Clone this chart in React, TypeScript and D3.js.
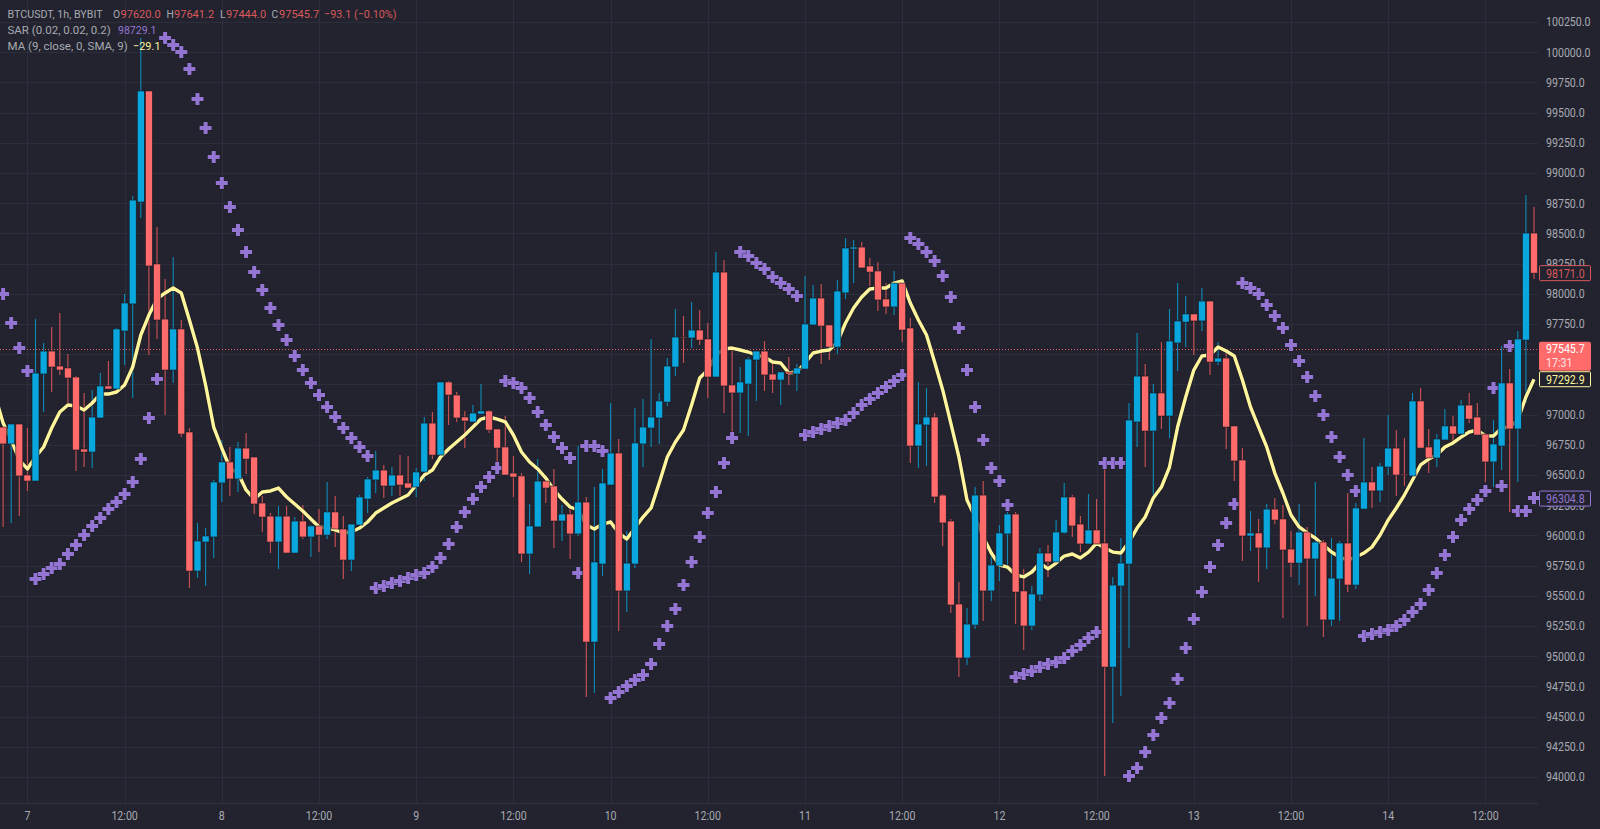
import { useEffect, useRef } from 'react';
import * as d3 from 'd3';

const firstBar = -3; // bars are numbered from the midnight of the 7th

const opens = [
  96897,96757,96922,96500,96450,97336,97526,97402,97386,97311,
  96715,96690,96972,97237,97212,97692,97916,98760,99679,98247,
  97791,97369,97709,96856,95705,95945,95987,96434,96608,96467,
  96723,96649,96268,96160,95945,96160,95854,96119,95987,96078,
  96003,96194,96053,95796,96086,96301,96459,96541,96409,96500,
  96434,96400,96525,96930,96665,97270,97162,96980,96939,97005,
  97030,96881,96732,96516,96492,95846,96070,96450,96409,96119,
  96177,96012,96276,95117,95763,96417,96682,95540,95763,96757,
  96889,96972,97104,97394,97642,97634,97700,97626,97311,98180,
  97245,97179,97253,97452,97526,97336,97286,97353,97336,97377,
  97742,97965,97742,97559,98007,98371,98387,98230,98189,97957,
  97891,98089,97717,96740,96914,96980,96334,96119,95432,94985,
  95258,96334,95540,95747,96012,96177,95540,95250,95507,95854,
  95780,96020,96318,96094,95929,96045,95937,94910,95581,95763,
  96939,97319,96864,97179,96988,97593,97766,97833,97775,97940,
  97435,97468,96906,96624,95995,96020,95896,96218,96136,95887,
  95771,96028,95805,95945,95300,95639,95937,95589,96218,96442,
  96368,96566,96723,96508,96492,97113,96732,96641,96790,96906,
  96839,97079,96980,96839,96608,96740,97262,96881,97617,98503,
];

const highs = [
  96897,96922,96922,96889,97791,97593,97725,97841,97502,97319,
  97179,97204,97344,97444,97717,97998,98810,100117,99679,98553,
  98122,98305,97783,96889,96103,96061,96459,96790,96732,96773,
  96848,96649,96326,96185,96243,96243,96152,96252,96086,96218,
  96442,96326,96160,96094,96334,96483,96699,96583,96566,96665,
  96657,96558,96980,97021,97270,97278,97187,97030,97079,97253,
  97038,96881,96988,96657,96516,96260,96632,96500,96550,96252,
  96227,96740,96318,96400,96550,97096,96798,96036,97055,97129,
  97626,97179,97468,97874,97816,97932,97866,97758,98346,98280,
  97535,97394,97477,97526,97609,97452,97353,97477,97419,98147,
  98073,98081,97742,98114,98462,98445,98429,98296,98263,98089,
  98189,98106,97800,97270,97220,97013,96343,96136,95614,95399,
  96400,96450,95854,96086,96194,96194,95722,95581,95896,95920,
  96127,96434,96334,96160,96343,96301,96591,95656,95979,97096,
  97675,97419,97253,97601,97874,98089,97982,97833,98048,97940,
  97601,97526,96906,96723,96202,96136,96260,96310,96252,96036,
  96260,96070,96442,95962,95979,95954,96351,96268,96806,96566,
  96599,96997,96872,96806,97179,97220,96881,96839,97046,96988,
  97121,97179,97096,96839,96955,97568,97377,97692,98818,98718,
];

const lows = [
  96070,96103,96160,96368,96450,97021,97187,97328,97096,96533,
  96566,96558,96972,97212,97212,97410,97137,98627,97493,97626,
  96997,97262,96814,95565,95647,95581,95813,96276,96326,96359,
  96508,96177,96028,95854,95722,95854,95854,95970,95821,95862,
  95970,95904,95639,95705,96086,96185,96351,96310,96326,96326,
  96392,96318,96450,96632,96665,96914,96939,96723,96939,97005,
  96848,96599,96500,96318,95780,95680,96070,96268,95896,95954,
  95805,95995,94662,94695,95664,96417,95209,95366,95730,96566,
  96732,96757,97071,97319,97427,97551,97576,97137,97311,97013,
  96806,96848,96823,97113,97195,97179,97079,97245,97195,97377,
  97742,97419,97452,97502,97957,98089,98214,98064,97858,97833,
  97824,97601,96599,96558,96574,96268,95912,95358,94828,94927,
  95225,95291,95457,95622,95755,95266,95051,95217,95457,95656,
  95780,96012,95987,95862,95929,95929,94008,94447,94670,95068,
  96732,96566,96310,96881,96806,97361,97559,97493,97692,97328,
  97410,96715,96450,95788,95871,95614,95722,96094,95316,95656,
  95589,95250,95498,95159,95250,95291,95531,95556,96218,96227,
  96276,96500,96326,96409,96492,96723,96516,96566,96790,96765,
  96806,96930,96831,96442,96400,96541,96194,96442,97096,98122,
];

const closes = [
  96757,96922,96492,96450,97344,97526,97394,97369,97303,96707,
  96690,96980,97237,97212,97709,97924,98776,99679,98230,97783,
  97369,97709,96839,95705,95954,95995,96442,96608,96467,96723,
  96632,96260,96152,95945,96160,95854,96119,95987,96078,96003,
  96194,96053,95796,96094,96318,96467,96541,96409,96500,96417,
  96392,96525,96930,96665,97270,97162,96972,96947,97013,97030,
  96872,96723,96500,96483,95846,96078,96450,96392,96119,96177,
  96012,96276,95117,95780,96434,96682,95540,95771,96765,96897,
  96980,97113,97402,97642,97634,97700,97617,97311,98180,97237,
  97179,97270,97460,97526,97328,97286,97353,97336,97386,97750,
  97965,97733,97559,98023,98379,98387,98214,98180,97949,97891,
  98089,97700,96740,96922,96980,96318,96103,95424,94985,95266,
  96334,95540,95755,96020,96177,95531,95250,95515,95854,95780,
  96028,96318,96078,95929,96045,95929,94910,95589,95771,96955,
  97319,96864,97179,96988,97609,97775,97833,97775,97940,97435,
  97468,96897,96616,95995,96020,95896,96218,96127,95879,95771,
  96028,95805,95945,95300,95647,95937,95589,96227,96442,96368,
  96574,96723,96500,96500,97113,96723,96641,96798,96906,96839,
  97079,96963,96831,96608,96757,97262,96881,97626,98503,98171,
];

// starts one bar before the first candle, off the left edge
const maValues = [
  97162,
  96930,96790,96624,96550,96649,96732,96889,97021,97079,97071,
  97038,97096,97170,97170,97187,97245,97394,97659,97824,97957,
  98007,98048,98007,97783,97551,97245,96897,96723,96558,96516,
  96376,96301,96359,96368,96392,96318,96260,96202,96136,96070,
  96061,96045,96020,96028,96061,96111,96185,96227,96268,96301,
  96334,96417,96500,96541,96649,96715,96773,96831,96897,96963,
  96980,96963,96939,96831,96690,96608,96550,96475,96376,96301,
  96235,96210,96086,96053,96094,96111,96020,95970,96061,96152,
  96227,96434,96649,96773,96872,97079,97303,97369,97493,97543,
  97551,97535,97518,97493,97477,97435,97427,97344,97353,97427,
  97510,97526,97535,97601,97758,97882,97973,98040,98048,98048,
  98089,98106,97924,97783,97659,97435,97204,96930,96649,96293,
  96152,95987,95854,95755,95738,95672,95656,95697,95771,95722,
  95771,95829,95846,95813,95862,95937,95896,95862,95854,95945,
  96061,96152,96310,96400,96566,96897,97146,97369,97485,97493,
  97559,97526,97485,97286,97063,96897,96732,96516,96351,96169,
  96070,96020,95979,95920,95862,95821,95796,95821,95854,95904,
  96003,96127,96227,96334,96459,96583,96632,96665,96732,96765,
  96814,96856,96872,96823,96823,96889,96897,96955,97146,97293,
];

const sarValues = [
  97998,97758,97551,97361,95639,95680,95730,95763,95846,95920,
  96003,96078,96144,96218,96276,96343,96442,96632,96972,97295,
  100117,100059,100002,99861,99613,99372,99132,98917,98718,98528,
  98346,98180,98031,97882,97742,97617,97485,97369,97262,97162,
  97063,96980,96889,96806,96732,96657,95565,95581,95606,95622,
  95647,95672,95689,95738,95813,95929,96070,96194,96301,96400,
  96483,96558,97278,97262,97220,97137,97021,96914,96814,96723,
  96641,95689,96740,96740,96699,94654,94704,94753,94803,94844,
  94935,95101,95250,95391,95589,95780,95987,96185,96359,96599,
  96806,98346,98313,98255,98205,98139,98089,98040,97982,96831,
  96856,96881,96906,96930,96955,97013,97079,97129,97179,97228,
  97278,97328,98462,98412,98346,98271,98147,97973,97717,97369,
  97063,96790,96558,96450,96252,94828,94853,94877,94910,94935,
  94952,94985,95043,95093,95151,95200,96599,96599,96599,94008,
  94074,94207,94348,94488,94613,94811,95068,95308,95531,95738,
  95920,96103,96260,98089,98048,97998,97907,97816,97717,97576,
  97444,97311,97154,96997,96814,96649,96500,96368,95167,95184,
  95200,95217,95250,95300,95366,95432,95548,95689,95838,95987,
  96127,96218,96293,96368,97220,96409,97568,96202,96202,96310,
];

const priceTicks = d3.range(94000, 100251, 250);
// these two sit fully under the current price and MA tags
const hiddenPriceLabels = [97500, 97250];
const timeTicks = [0, 12, 24, 36, 48, 60, 72, 84, 96, 108, 120, 132, 144, 156, 168, 180];
const timeLabels = ['7', '12:00', '8', '12:00', '9', '12:00', '10', '12:00', '11', '12:00', '12', '12:00', '13', '12:00', '14', '12:00'];

const BG = '#22232e';
const GRID = '#2c2e3b';
const UP = '#09a7dd';
const DOWN = '#ff6b6b';
const UP_WICK = '#0d8ab8';
const DOWN_WICK = '#cf5353';
const MA = '#fff59d';
const SAR = '#9575d3';
const TEXT = '#a8aab2';
const FONT = 'Roboto, sans-serif';

const W = 1600;
const H = 829;
const PLOT_R = 1538;
const AXIS_Y = 803;
const AXIS_SQUEEZE = 0.85;

export default function App() {
  const ref = useRef<SVGSVGElement | null>(null);

  useEffect(() => {
    const svg = d3.select(ref.current);
    svg.selectAll('*').remove();

    const x = d3.scaleLinear().domain([firstBar, 186]).range([3.1, 1534]);
    const y = d3.scaleLinear().domain([94000, 100250]).range([777, 22]);
    const bars = d3.range(opens.length);
    const barX = (i: number) => x(i + firstBar);

    svg.append('rect').attr('width', W).attr('height', H).attr('fill', BG);

    svg
      .append('clipPath')
      .attr('id', 'plot')
      .append('rect')
      .attr('width', PLOT_R + 1)
      .attr('height', AXIS_Y);

    // grid
    const grid = svg.append('g').attr('stroke', GRID).attr('stroke-width', 1);
    grid
      .selectAll('line.h')
      .data(priceTicks)
      .enter()
      .append('line')
      .attr('x1', 0)
      .attr('x2', PLOT_R)
      .attr('y1', (d) => Math.round(y(d)) + 0.5)
      .attr('y2', (d) => Math.round(y(d)) + 0.5);
    grid
      .selectAll('line.v')
      .data(timeTicks)
      .enter()
      .append('line')
      .attr('x1', (d) => Math.round(x(d)) + 0.5)
      .attr('x2', (d) => Math.round(x(d)) + 0.5)
      .attr('y1', 0)
      .attr('y2', AXIS_Y);
    grid
      .append('line')
      .attr('x1', 0)
      .attr('x2', PLOT_R)
      .attr('y1', AXIS_Y + 0.5)
      .attr('y2', AXIS_Y + 0.5)
      .attr('stroke', '#30323f');

    const plot = svg.append('g').attr('clip-path', 'url(#plot)');

    // last price line
    plot
      .append('line')
      .attr('x1', 0)
      .attr('x2', PLOT_R)
      .attr('y1', Math.round(y(97545.7)) + 0.5)
      .attr('y2', Math.round(y(97545.7)) + 0.5)
      .attr('stroke', DOWN)
      .attr('stroke-dasharray', '1 2')
      .attr('opacity', 0.85);

    // wicks
    plot
      .selectAll('line.wick')
      .data(bars)
      .enter()
      .append('line')
      .attr('x1', (i) => barX(i))
      .attr('x2', (i) => barX(i))
      .attr('y1', (i) => y(highs[i]))
      .attr('y2', (i) => y(lows[i]))
      .attr('stroke', (i) => (closes[i] >= opens[i] ? UP_WICK : DOWN_WICK))
      .attr('stroke-width', 1.1);

    // moving average
    const maLine = d3
      .line<number>()
      .x((d, i) => barX(i - 1))
      .y((d) => y(d))
      .curve(d3.curveLinear);
    plot
      .append('path')
      .attr('d', maLine(maValues))
      .attr('fill', 'none')
      .attr('stroke', '#15161d')
      .attr('stroke-width', 4.6)
      .attr('stroke-linejoin', 'round')
      .attr('opacity', 0.55);
    plot
      .append('path')
      .attr('d', maLine(maValues))
      .attr('fill', 'none')
      .attr('stroke', MA)
      .attr('stroke-width', 3.4)
      .attr('stroke-linejoin', 'round');

    // parabolic SAR
    const cross = d3.symbol().type(d3.symbolCross).size(80);
    plot
      .selectAll('path.sar')
      .data(sarValues)
      .enter()
      .append('path')
      .attr('d', cross)
      .attr('transform', (d, i) => `translate(${barX(i)},${y(d)})`)
      .attr('fill', SAR)
      .attr('stroke', '#191a24')
      .attr('stroke-width', 0.7)
      .attr('paint-order', 'stroke');

    // bodies
    plot
      .selectAll('rect.body')
      .data(bars)
      .enter()
      .append('rect')
      .attr('x', (i) => barX(i) - 3.5)
      .attr('width', 7)
      .attr('y', (i) => y(Math.max(opens[i], closes[i])))
      .attr('height', (i) => Math.max(1, Math.abs(y(opens[i]) - y(closes[i]))))
      .attr('fill', (i) => (closes[i] >= opens[i] ? UP : DOWN))
      .attr('stroke', '#171822')
      .attr('stroke-width', 0.6);

    // text narrowed sideways, the chart's own font is tighter than Roboto
    const label = (
      parent: any,
      lx: number,
      ly: number,
      text: string,
      color: string,
      size: number,
      squeeze: number,
      anchor = 'start',
    ) =>
      parent
        .append('text')
        .attr('transform', `translate(${lx},${ly}) scale(${squeeze},1)`)
        .attr('dy', '0.35em')
        .attr('font-family', FONT)
        .attr('font-size', size)
        .attr('text-anchor', anchor)
        .attr('fill', color)
        .text(text);

    // price axis labels
    const priceAxis = svg.append('g');
    priceTicks
      .filter((d) => !hiddenPriceLabels.includes(d))
      .forEach((d) => label(priceAxis, 1546, y(d), d3.format('.1f')(d), TEXT, 12.5, AXIS_SQUEEZE));

    // time axis labels
    const timeAxis = svg.append('g');
    timeTicks.forEach((d, i) => label(timeAxis, x(d), 816, timeLabels[i], TEXT, 12.5, AXIS_SQUEEZE, 'middle'));

    // boxes on the price axis
    const tag = (price: number, text: string, color: string) => {
      const cy = y(price);
      const g = svg.append('g');
      g.append('rect')
        .attr('x', 1539.5)
        .attr('y', cy - 7.5)
        .attr('width', 51)
        .attr('height', 15)
        .attr('rx', 1)
        .attr('fill', BG)
        .attr('stroke', color);
      label(g, 1546, cy, text, color, 12.5, AXIS_SQUEEZE);
    };
    tag(98171, '98171.0', '#d9595c');
    tag(97292.9, '97292.9', MA);
    tag(96304.8, '96304.8', SAR);

    // current price with countdown
    const py = y(97545.7);
    const cur = svg.append('g');
    cur
      .append('rect')
      .attr('x', 1539)
      .attr('y', py - 7)
      .attr('width', 52)
      .attr('height', 29)
      .attr('rx', 2)
      .attr('fill', DOWN);
    label(cur, 1546, py, '97545.7', '#fff', 12.5, AXIS_SQUEEZE);
    label(cur, 1546, py + 14, '17:31', '#ffe3e3', 12.5, AXIS_SQUEEZE);

    // legend
    const legend = svg.append('g');
    const put = (lx: number, ly: number, text: string, color: string, squeeze = 1) =>
      label(legend, lx, ly, text, color, 11.5, squeeze);
    const LEGEND_RED = '#d9595c';
    put(7.5, 13.5, 'BTCUSDT, 1h, BYBIT', TEXT, 0.93);
    put(113, 13.5, 'O', TEXT, 0.9);
    put(120.5, 13.5, '97620.0', LEGEND_RED, 0.96);
    put(166.5, 13.5, 'H', TEXT, 0.9);
    put(174, 13.5, '97641.2', LEGEND_RED, 0.96);
    put(220, 13.5, 'L', TEXT, 0.9);
    put(226, 13.5, '97444.0', LEGEND_RED, 0.96);
    put(271.5, 13.5, 'C', TEXT, 0.9);
    put(279, 13.5, '97545.7', LEGEND_RED, 0.96);
    put(324, 13.5, '−93.1 (−0.10%)', LEGEND_RED, 0.94);
    put(7.5, 29.5, 'SAR (0.02, 0.02, 0.2)', TEXT);
    put(118, 29.5, '98729.1', SAR, 0.92);
    put(7.5, 45.5, 'MA (9, close, 0, SMA, 9)', TEXT);
    put(133, 45.5, '−29.1', MA, 0.95);
  }, []);

  return (
    <svg
      ref={ref}
      width={W}
      height={H}
      style={{ position: 'absolute', left: 0, top: 0, display: 'block' }}
    />
  );
}
